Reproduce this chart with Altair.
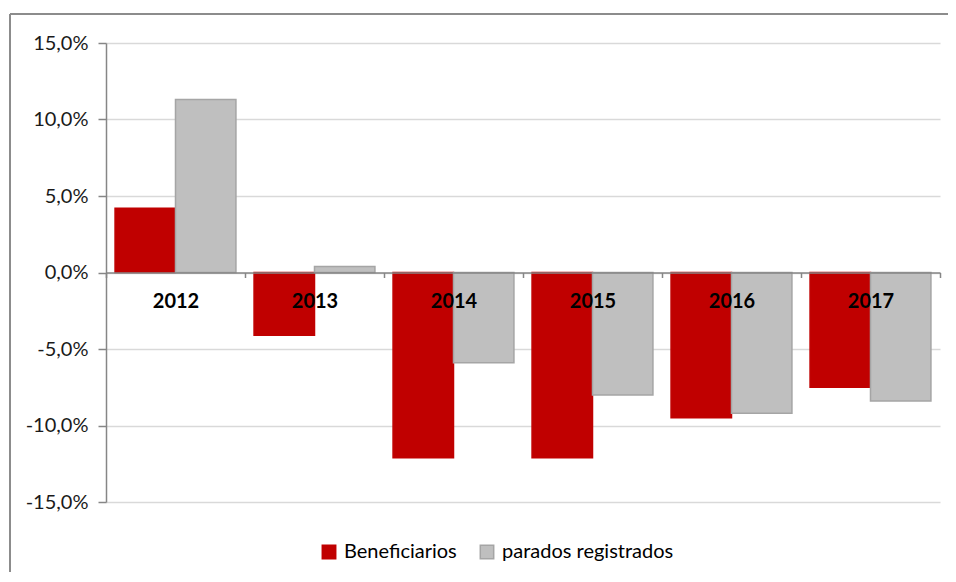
import altair as alt
import pandas as pd

years = ["2012", "2013", "2014", "2015", "2016", "2017"]
series = ["Beneficiarios", "parados registrados"]
beneficiarios = [4.2, -4.1, -12.1, -12.1, -9.5, -7.5]
parados = [11.3, 0.4, -5.9, -8.0, -9.2, -8.4]
colors = ["#c00000", "#bfbfbf"]
strokes = ["#c00000", "#a5a5a5"]

rows = []
for i, y in enumerate(years):
    rows.append({"year": y, "serie": series[0], "value": beneficiarios[i]})
    rows.append({"year": y, "serie": series[1], "value": parados[i]})
df = pd.DataFrame(rows)

FONT = "Lato"
W, H = 834, 459

bars = alt.Chart(df).mark_bar(strokeWidth=1.5).encode(
    x=alt.X("year:N", sort=years,
            scale=alt.Scale(paddingInner=0, paddingOuter=0),
            axis=alt.Axis(title=None, orient="bottom", offset=-229.5, labelAngle=0,
                          labelFont=FONT, labelFontSize=20, labelFontWeight="bold",
                          labelColor="#000000", labelPadding=14,
                          domainColor="#868686", domainWidth=1.5,
                          tickColor="#868686", tickWidth=1.5, tickSize=5,
                          tickBand="extent", grid=False, zindex=1)),
    xOffset=alt.XOffset("serie:N", sort=series,
                        scale=alt.Scale(domain=series, paddingInner=0, paddingOuter=0.15)),
    y=alt.Y("value:Q", scale=alt.Scale(domain=[-15, 15], nice=False),
            axis=alt.Axis(title=None, values=[-15, -10, -5, 0, 5, 10, 15],
                          labelExpr="(datum.value < 0 ? '-' : '') + replace(format(abs(datum.value), '.1f'), '.', ',') + '%'",
                          labelFont=FONT, labelFontSize=20, labelColor="#1a1a1a",
                          labelPadding=10, tickSize=8, tickColor="#868686", tickWidth=1.5,
                          domainColor="#868686", domainWidth=1.5,
                          grid=True, gridColor="#d9d9d9", gridWidth=1.5)),
    color=alt.Color("serie:N", scale=alt.Scale(domain=series, range=colors),
                    legend=alt.Legend(title=None, orient="none", legendX=213, legendY=499,
                                      direction="horizontal", symbolType="square",
                                      symbolSize=180, symbolStrokeWidth=1.5,
                                      labelFont=FONT, labelFontSize=20, labelColor="#000000",
                                      labelOffset=5, columnPadding=20, labelLimit=400)),
    stroke=alt.Stroke("serie:N", scale=alt.Scale(domain=series, range=strokes), legend=None),
)

one = pd.DataFrame({"a": [0]})
frame_top = alt.Chart(one).mark_rule(color="#8c8c8c", strokeWidth=2).encode(
    x=alt.value(-96), x2=alt.value(W + 20), y=alt.value(-29))
frame_left = alt.Chart(one).mark_rule(color="#8c8c8c", strokeWidth=2).encode(
    x=alt.value(-96), y=alt.value(-29), y2=alt.value(H + 80))

chart = alt.layer(bars, frame_top, frame_left).properties(
    width=W, height=H,
    autosize=alt.AutoSizeParams(type="none"),
    padding={"left": 98, "top": 35, "right": 8, "bottom": 70},
).configure_view(stroke=None)

chart.save("out.html", embed_options={"renderer": "svg", "actions": False})
